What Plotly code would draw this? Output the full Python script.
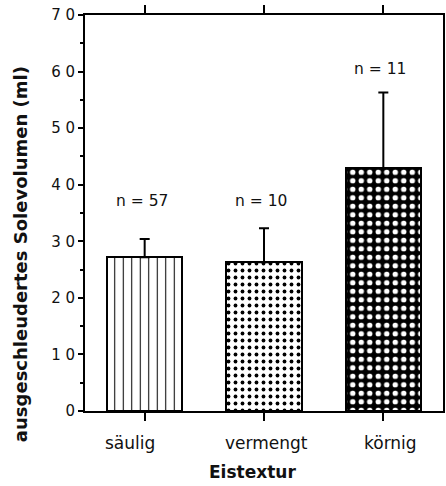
import plotly.graph_objects as go

# Ice texture classes, mean spun-out brine volume (ml) and upper error
categories = ["säulig", "vermengt", "körnig"]
means = [27.2, 26.3, 42.9]
errors_up = [3.2, 6.0, 13.4]
sample_sizes = [57, 10, 11]
y_ticks = [0, 10, 20, 30, 40, 50, 60, 70]

# styling (kept apart from the data)
FONT = "DejaVu Sans"
patterns = [
    dict(shape="|", size=8.5, solidity=0.12, fgcolor="black", bgcolor="white", fillmode="replace"),
    dict(shape=".", size=7, solidity=0.24, fgcolor="black", bgcolor="white", fillmode="replace"),
    dict(shape=".", size=8.5, solidity=0.32, fgcolor="white", bgcolor="black", fillmode="replace"),
]
label_heights = [37.1, 37.1, 60.5]
cat_label_shift = [-15, 2, 7]

fig = go.Figure()
for i, cat in enumerate(categories):
    fig.add_trace(go.Bar(
        x=[i], y=[means[i]], width=0.63,
        marker=dict(color="white", pattern=patterns[i],
                    line=dict(color="black", width=2)),
        error_y=dict(type="data", symmetric=False, array=[errors_up[i]],
                     arrayminus=[0], color="black", thickness=2, width=5),
        showlegend=False,
    ))

annotations = []
for i, n in enumerate(sample_sizes):
    annotations.append(dict(x=i, y=label_heights[i], xref="x", yref="y",
                            text=f"n = {n}", showarrow=False,
                            font=dict(family=FONT, size=15.5, color="#111"),
                            xshift=-3))
for i, cat in enumerate(categories):
    annotations.append(dict(x=i, y=0, xref="x", yref="y", yanchor="top",
                            yshift=-20, xshift=cat_label_shift[i],
                            text=cat, showarrow=False,
                            font=dict(family=FONT, size=17, color="#111")))
annotations.append(dict(x=0.469, y=-0.155, xref="paper", yref="paper",
                        xanchor="center", yanchor="middle",
                        text="<b>Eistextur</b>", showarrow=False,
                        font=dict(family=FONT, size=17, color="#111")))
annotations.append(dict(x=-0.18, y=0.395, xref="paper", yref="paper",
                        xanchor="center", yanchor="middle",
                        text="<b>ausgeschleudertes Solevolumen (ml)</b>",
                        textangle=-90, showarrow=False,
                        font=dict(family=FONT, size=18, color="#111")))

fig.update_layout(
    width=446, height=486,
    margin=dict(l=85, r=1, t=15, b=75),
    paper_bgcolor="white", plot_bgcolor="white",
    bargap=0,
    annotations=annotations,
    xaxis=dict(range=[-0.5, 2.5], tickvals=[0, 1, 2], showticklabels=False,
               showline=True, linecolor="black", linewidth=1.5,
               mirror="ticks", ticks="outside", ticklen=8, tickwidth=1.5,
               tickcolor="black", showgrid=False, zeroline=False),
    yaxis=dict(range=[0, 70], tickvals=y_ticks,
               ticktext=[" ".join(str(v)) for v in y_ticks],
               tickfont=dict(family=FONT, size=15, color="#111"),
               showline=True, linecolor="black", linewidth=2, mirror=True,
               ticks="outside", ticklen=5, tickwidth=1.5, tickcolor="black",
               minor=dict(dtick=5, ticks="outside", ticklen=3, tickcolor="black"),
               showgrid=False, zeroline=False),
)

fig.write_html("out.html")
